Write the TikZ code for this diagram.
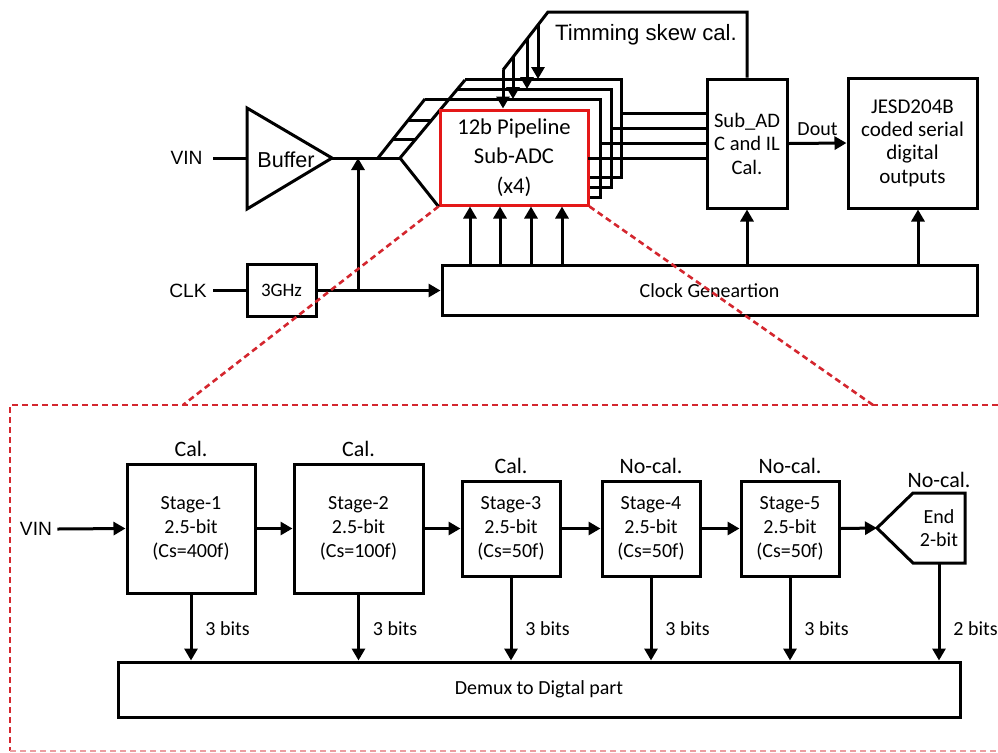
\documentclass[tikz,border=0pt]{standalone}
\usepackage{fontspec}
\setmainfont{Carlito}
\newfontfamily\arialfont{Liberation Sans}
\usetikzlibrary{calc, positioning, arrows.meta}
\definecolor{adcred}{RGB}{228,24,24}
\definecolor{zoomred}{RGB}{212,38,46}
\newcommand{\fsz}[2]{\fontsize{#1}{#2}\selectfont}
\tikzset{
  wire/.style={line width=1.5pt},
  sig/.style={wire, -{Triangle[length=6pt,width=6.5pt]}},
  blk/.style={draw, line width=1.5pt, rectangle, fill=white, inner sep=1pt, align=center},
  lbl/.style={font=\fsz{11}{12}, inner sep=2.5pt},
  txt ar/.style={font=\arialfont\fsz{9.6}{11}},
  bits/.style={font=\fsz{10}{12}, anchor=west, inner sep=2pt, xshift=5pt},
  zoom line/.style={zoomred, line width=1.3pt, dash pattern=on 3pt off 2pt},
}

\begin{document}
\begin{tikzpicture}[x=0.5pt, y=-0.5pt]
\useasboundingbox (0,0) rectangle (998,752);

% ---- top level: interleaved ADC
\node[txt ar, anchor=east, inner xsep=5pt] (vin) at (213,158) {VIN};
\coordinate (bufin) at (247,158);
\coordinate (bufout) at (332,158);
\draw[wire, line join=miter] (247,108) -- (bufout) -- (247,209) -- cycle;
\node[font=\arialfont\fsz{10.8}{12}, inner sep=0] (buftxt) at (286,160) {Buffer};
\draw[wire] (vin.east) -- (bufin);

\coordinate (fantip) at (400,158);
\draw[wire] (bufout) -- (fantip);
\draw[wire] (378,158) -- (425,99);
\draw[wire] (fantip) -- (465,80);
\draw[wire] (393,139) -- (416,139);
\draw[wire] (408,120) -- (432,120);

% stacked sub-ADCs behind the front one
\foreach \xl/\t/\r/\b in {465/79/621/177, 456.7/89/611/187, 425/99/600/197}
  \draw[wire] (\xl,\t) -- (\r,\t) -- (\r,\b) -- (588,\b);

\node[blk, draw=adcred, minimum width=74pt, minimum height=47.5pt, font=\fsz{11.3}{14.8}] (adc0) at (514,157.5) {12b Pipeline\\Sub-ADC\\(x4)};
\draw[wire] (fantip) -- (adc0.south west);

\node[blk, minimum width=40pt, minimum height=64.5pt, font=\fsz{10.3}{11.75}] (sub) at (747,143.5) {Sub\_AD\\C and IL\\Cal.};
\node[blk, minimum width=64.5pt, minimum height=65pt, font=\fsz{10.5}{11.7}] (jesd) at (912.5,143) {JESD204B\\coded serial\\digital\\outputs};

\foreach \x/\y in {621/113, 611/128, 600/143, 588/158}
  \draw[wire] (\x,\y) coordinate (o) -- (o -| sub.west);
\draw[sig] (sub.east) -- (jesd.west) node[midway, above, font=\fsz{10}{12}, inner sep=3pt] {Dout};

% timing skew feedback
\coordinate (tsr) at (747,12);
\coordinate (tsl) at (548,12);
\coordinate (tsd) at (503,70);
\draw[wire] (sub.north) -- (tsr) -- (tsl) -- (tsd);
\draw[sig] (tsd) -- (tsd |- adc0.north);
\foreach \x/\ya/\yb in {513/57/99, 527/39/89, 538/25/79}
  \draw[sig] (\x,\ya) -- (\x,\yb);
\node[font=\arialfont\fsz{11.1}{12}] (tsk) at (646,35) {Timming skew cal.};

% clock path
\node[txt ar, anchor=east, inner xsep=3pt] (clk) at (213,290.5) {CLK};
\node[blk, minimum width=34.5pt, minimum height=26pt, font=\fsz{9.5}{11}] (ghz) at (281.5,290.5) {3GHz};
\node[blk, minimum width=267.5pt, minimum height=25pt, font=\fsz{10}{12}] (clkgen) at (709.5,290.5) {Clock Geneartion};
\draw[wire] (clk.east) -- (ghz.west);
\draw[sig] (ghz.east) -- (clkgen.west);
\coordinate (jn) at (358,290.5);
\draw[sig] (jn) -- (jn |- bufout);
\foreach \x in {470,500,531,562} {
  \coordinate (cx) at (\x,0);
  \draw[sig] (cx |- clkgen.north) -- (cx |- adc0.south);
}
\draw[sig] (sub.south |- clkgen.north) -- (sub.south);
\coordinate (jx) at (918,0);
\draw[sig] (jx |- clkgen.north) -- (jx |- jesd.south);

% zoom into one sub-ADC
\draw[zoom line] (adc0.south west) -- (183,405);
\draw[zoom line] (adc0.south east) -- (873,405);
\draw[zoom line] (998,405) -- (10,405) -- (10,751);
\draw[zoom line, zoomred!45] (10,751) -- (998,751);

% ---- pipeline stages
\node[txt ar, inner sep=2.5pt] (vinb) at (36,529) {VIN};
\node[blk, minimum width=64pt, minimum height=64.5pt, font=\fsz{10}{12}, label={[lbl]above:Cal.}] (st1) at (191,528.5) {Stage-1\\2.5-bit\\(Cs=400f)};
\node[blk, minimum width=64.5pt, minimum height=64.5pt, font=\fsz{10}{12}, label={[lbl]above:Cal.}, right=18pt of st1] (st2) {Stage-2\\2.5-bit\\(Cs=100f)};
\node[blk, minimum width=49pt, minimum height=47.5pt, font=\fsz{10}{12}, label={[lbl]above:Cal.}, right=18pt of st2] (st3) {Stage-3\\2.5-bit\\(Cs=50f)};
\node[blk, minimum width=49pt, minimum height=47.5pt, font=\fsz{10}{12}, label={[lbl]above:No-cal.}, right=19.5pt of st3] (st4) {Stage-4\\2.5-bit\\(Cs=50f)};
\node[blk, minimum width=49pt, minimum height=47.5pt, font=\fsz{10}{12}, label={[lbl]above:No-cal.}, right=19pt of st4] (st5) {Stage-5\\2.5-bit\\(Cs=50f)};
\node[minimum width=26pt, minimum height=35pt, outer sep=0pt, inner sep=1pt, align=center, font=\fsz{10}{11.5}, label={[lbl]above:No-cal.}] (endbox) at (939,528) {End\\2-bit};
\coordinate (endtip) at ([xshift=-18pt]endbox.west);
\draw[wire, line join=miter] (endbox.north east) -- (endbox.north west) -- (endtip) -- (endbox.south west) -- (endbox.south east) -- cycle;

\draw[sig] (vinb.east) -- (st1.west);
\draw[sig] (st1.east) -- (st2.west);
\draw[sig] (st2.east) -- (st3.west);
\draw[sig] (st3.east) -- (st4.west);
\draw[sig] (st4.east) -- (st5.west);
\draw[sig] (st5.east) -- (endtip);

\node[blk, minimum width=421pt, minimum height=27.5pt, font=\fsz{10}{12}] (demux) at (539,689.5) {Demux to Digtal part};
\coordinate (bitrow) at (0,629);
\foreach \s/\b in {st1/3, st2/3, st3/3, st4/3, st5/3, endbox/2} {
  \draw[sig] (\s.south) -- (\s.south |- demux.north);
  \node[bits] at (\s.south |- bitrow) {\b~bits};
}

\end{tikzpicture}
\end{document}
